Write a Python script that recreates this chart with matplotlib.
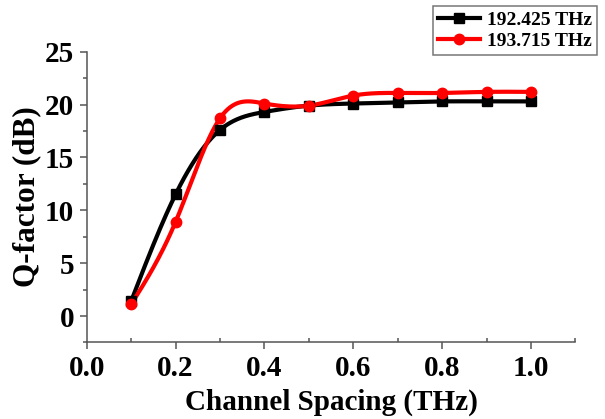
import numpy as np
import matplotlib
matplotlib.use("Agg")
import matplotlib.pyplot as plt
from matplotlib.ticker import MultipleLocator

spacing = [0.1, 0.2, 0.3, 0.4, 0.5, 0.6, 0.7, 0.8, 0.9, 1.0]
q_192 = [1.4, 11.5, 17.6, 19.3, 19.9, 20.1, 20.2, 20.3, 20.3, 20.3]
q_193 = [1.1, 8.9, 18.7, 20.1, 19.9, 20.85, 21.1, 21.1, 21.2, 21.2]
labels = ["192.425 THz", "193.715 THz"]


def natural_spline(x, y, n=400):
    x = np.asarray(x, float)
    y = np.asarray(y, float)
    m = len(x)
    h = np.diff(x)
    A = np.zeros((m, m))
    b = np.zeros(m)
    A[0, 0] = 1
    A[-1, -1] = 1
    for i in range(1, m - 1):
        A[i, i - 1] = h[i - 1]
        A[i, i] = 2 * (h[i - 1] + h[i])
        A[i, i + 1] = h[i]
        b[i] = 3 * ((y[i + 1] - y[i]) / h[i] - (y[i] - y[i - 1]) / h[i - 1])
    c = np.linalg.solve(A, b)
    xs = np.linspace(x[0], x[-1], n)
    ys = np.empty_like(xs)
    for k, xv in enumerate(xs):
        i = min(np.searchsorted(x, xv, side="right") - 1, m - 2)
        dx = xv - x[i]
        bi = (y[i + 1] - y[i]) / h[i] - h[i] * (2 * c[i] + c[i + 1]) / 3
        di = (c[i + 1] - c[i]) / (3 * h[i])
        ys[k] = y[i] + bi * dx + c[i] * dx ** 2 + di * dx ** 3
    return xs, ys


plt.rcParams["font.family"] = ["Liberation Serif", "DejaVu Serif"]
plt.rcParams["font.weight"] = "bold"

fig = plt.figure(figsize=(6.05, 4.19), dpi=100)
ax = fig.add_axes([0.1433, 0.1826, 0.951 - 0.1433, 0.8766 - 0.1826])

styles = [("black", "s", 6.5), ("#ff0000", "o", 7.5)]
for ys_data, lab, (col, mk, ms) in zip([q_192, q_193], labels, styles):
    sx, sy = natural_spline(spacing, ys_data)
    ax.plot(sx, sy, color=col, lw=3.0, zorder=2)
    ax.plot(spacing, ys_data, linestyle="none", marker=mk, ms=ms, color=col, zorder=3)
    ax.plot([], [], color=col, lw=3.0, marker=mk, ms=ms, label=lab)

ax.set_xlim(0, 1.1)
ax.set_ylim(-2.5, 25)
ax.xaxis.set_major_locator(MultipleLocator(0.2))
ax.xaxis.set_minor_locator(MultipleLocator(0.1))
ax.yaxis.set_major_locator(MultipleLocator(5))
ax.yaxis.set_minor_locator(MultipleLocator(2.5))
ax.set_xticks([0.0, 0.2, 0.4, 0.6, 0.8, 1.0])
ax.set_xticklabels(["0.0", "0.2", "0.4", "0.6", "0.8", "1.0"])
ax.set_yticks([0, 5, 10, 15, 20, 25])

for s in ["top", "right"]:
    ax.spines[s].set_visible(False)
for s in ["left", "bottom"]:
    ax.spines[s].set_color("#555555")
    ax.spines[s].set_linewidth(1.1)

ax.tick_params(axis="both", which="major", direction="out", length=5, width=1.1,
               color="#555555", labelsize=21, pad=4)
ax.tick_params(axis="x", which="minor", direction="in", length=3, width=1.1, color="#555555")
ax.tick_params(axis="y", which="minor", direction="out", length=3, width=1.1, color="#555555")
for t in ax.get_xticklabels() + ax.get_yticklabels():
    t.set_fontweight("bold")

ax.set_xlabel("Channel Spacing (THz)", fontsize=21, fontweight="bold", labelpad=5)
ax.set_ylabel("Q-factor (dB)", fontsize=22.5, fontweight="bold", labelpad=3)

leg = fig.legend(loc="upper right", bbox_to_anchor=(0.987, 0.985), fontsize=14,
                 frameon=True, fancybox=False, edgecolor="#555555", handlelength=2.2,
                 borderpad=0.25, labelspacing=0.2, handletextpad=0.35, borderaxespad=0)
leg.get_frame().set_linewidth(1.1)
for t in leg.get_texts():
    t.set_fontweight("bold")

fig.savefig("out.png", dpi=100)
